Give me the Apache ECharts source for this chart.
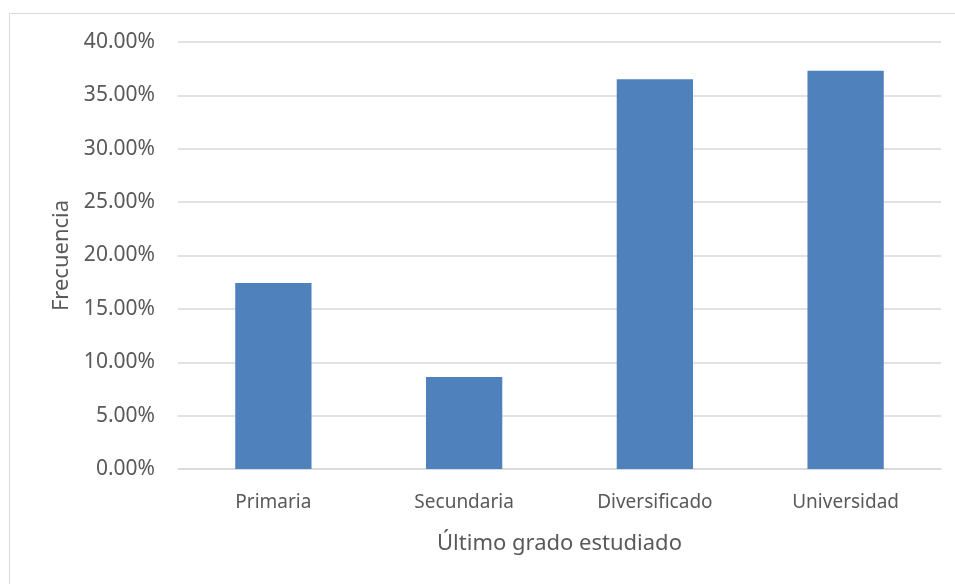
<!DOCTYPE html>
<html>
<head>
<meta charset="utf-8">
<script src="https://cdn.jsdelivr.net/npm/echarts@6/dist/echarts.min.js"></script>
<style>
  html, body { margin: 0; padding: 0; background: #fff; }
  #chart { width: 955px; height: 584px; }
</style>
</head>
<body>
<div id="chart"></div>
<script>
  // datos
  const categories = ['Primaria', 'Secundaria', 'Diversificado', 'Universidad']
  const frecuencia = [17.43, 8.62, 36.52, 37.30]
  const yTicks = { min: 0, max: 40, interval: 5 }

  const textColor = '#595959'
  const gridColor = '#d9d9d9'
  const font = 'Noto Sans'

  const chart = echarts.init(document.getElementById('chart'))
  const option = {
    backgroundColor: '#ffffff',
    animation: false,
    graphic: [
      {
        type: 'rect',
        shape: { x: 9.5, y: 13.5, width: 1000, height: 700 },
        style: { fill: 'none', stroke: gridColor, lineWidth: 1 },
        silent: true
      }
    ],
    grid: {
      left: 178,
      right: 14,
      top: 42,
      bottom: 115
    },
    xAxis: {
      type: 'category',
      data: categories,
      name: 'Último grado estudiado',
      nameLocation: 'middle',
      nameGap: 64,
      nameTextStyle: { color: textColor, fontFamily: font, fontSize: 22 },
      axisLine: { lineStyle: { color: gridColor, width: 1.5 } },
      axisTick: { show: false },
      axisLabel: { color: textColor, fontFamily: font, fontSize: 19, margin: 24 }
    },
    yAxis: {
      type: 'value',
      min: yTicks.min,
      max: yTicks.max,
      interval: yTicks.interval,
      name: 'Frecuencia',
      nameLocation: 'middle',
      nameGap: 103,
      nameRotate: 90,
      nameTextStyle: { color: textColor, fontFamily: font, fontSize: 22 },
      axisLine: { show: false },
      axisTick: { show: false },
      splitLine: { lineStyle: { color: gridColor, width: 1.5 } },
      axisLabel: {
        color: textColor,
        fontFamily: font,
        fontSize: 21,
        margin: 23,
        formatter: v => v.toFixed(2) + '%'
      }
    },
    series: [
      {
        type: 'bar',
        data: frecuencia,
        barWidth: '40%',
        itemStyle: { color: '#4f81bd' }
      }
    ]
  }
  chart.setOption(option)
</script>
</body>
</html>
